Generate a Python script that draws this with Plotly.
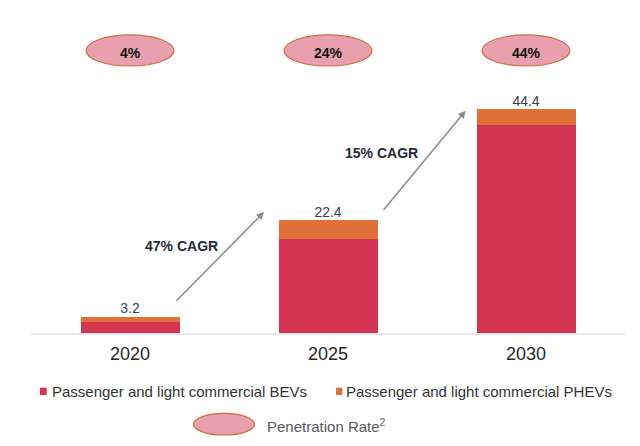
import plotly.graph_objects as go

years = ["2020", "2025", "2030"]
bev = [2.1, 18.7, 41.3]
phev = [1.1, 3.7, 3.1]
totals = [3.2, 22.4, 44.4]
penetration = [4, 24, 44]
cagr = [47, 15]

RED = "#D33552"
ORANGE = "#E0713A"
PINK = "#E8A0AE"
EDGE = "#CF6A3E"
SANS = "Liberation Sans, Arial"

W, H = 640, 446
ML, MR, MT, MB = 31, 15, 20, 113
YMAX = 62.1


def px(x, y):
    # pixel -> paper coordinates
    return (x - ML) / (W - ML - MR), (H - MB - y) / (H - MT - MB)


fig = go.Figure()
fig.add_trace(go.Bar(x=years, y=bev, name="Passenger and light commercial BEVs",
                     marker_color=RED, marker_line_width=0, showlegend=False))
fig.add_trace(go.Bar(x=years, y=phev, name="Passenger and light commercial PHEVs",
                     marker_color=ORANGE, marker_line_width=0, showlegend=False))
fig.add_trace(go.Scatter(x=years, y=totals, mode="text", text=[f"{t:.1f}" for t in totals],
                         textposition="top center", showlegend=False,
                         textfont=dict(family=SANS, size=14, color="#3a3f4b")))

# penetration ellipses above bars
for i, p in enumerate(penetration):
    fig.add_shape(type="circle", xref="x", yref="y", x0=i - 0.222, x1=i + 0.222,
                  y0=52.97, y1=59.13, fillcolor=PINK, line=dict(color=EDGE, width=1.2))
    fig.add_annotation(x=i, y=55.6, text=f"<b>{p}%</b>", showarrow=False,
                       font=dict(family=SANS, size=14, color="#111"))

# CAGR arrows
arrows = [((0.227, 6.1), (0.677, 24.0), (0.261, 17.3)),
          ((1.274, 24.1), (1.695, 44.1), (1.268, 35.8))]
for (tail, head, lab), c in zip(arrows, cagr):
    fig.add_annotation(x=head[0], y=head[1], ax=tail[0], ay=tail[1], xref="x", yref="y",
                       axref="x", ayref="y", text="", showarrow=True, arrowhead=2,
                       arrowsize=1, arrowwidth=1.5, arrowcolor="#8c8c8c", standoff=0)
    fig.add_annotation(x=lab[0], y=lab[1], text=f"<b>{c}% CAGR</b>", showarrow=False,
                       font=dict(family=SANS, size=14, color="#1f2a36"))

# manual legend
legend = [(40, 46.7, RED, 50, "Passenger and light commercial BEVs"),
          (336, 342.3, ORANGE, 344, "Passenger and light commercial PHEVs")]
for x0, x1, col, tx, label in legend:
    a = px(x0, 395)
    b = px(x1, 387.7)
    fig.add_shape(type="rect", xref="paper", yref="paper", x0=a[0], x1=b[0], y0=a[1], y1=b[1],
                  fillcolor=col, line=dict(width=0))
    t = px(tx, 391)
    fig.add_annotation(xref="paper", yref="paper", x=t[0], y=t[1], xanchor="left",
                       yanchor="middle", text=label, showarrow=False,
                       font=dict(family=SANS, size=15, color="#333"))

a = px(193.5, 435)
b = px(254.5, 413.3)
fig.add_shape(type="circle", xref="paper", yref="paper", x0=a[0], x1=b[0], y0=a[1], y1=b[1],
              fillcolor=PINK, line=dict(color=EDGE, width=1.2))
t = px(265, 425)
fig.add_annotation(xref="paper", yref="paper", x=t[0], y=t[1], xanchor="left",
                   yanchor="middle", text="Penetration Rate<sup>2</sup>", showarrow=False,
                   font=dict(family=SANS, size=15, color="#595959"))

fig.update_layout(
    width=W, height=H, barmode="stack", bargap=0.5,
    margin=dict(l=ML, r=MR, t=MT, b=MB),
    plot_bgcolor="white", paper_bgcolor="white",
    xaxis=dict(type="category", showline=True, linecolor="#e8e8e8", linewidth=1.5,
               showgrid=False, ticks="", ticklabelstandoff=4,
               tickfont=dict(family=SANS, size=18, color="#262626")),
    yaxis=dict(range=[0, YMAX], visible=False, showgrid=False, zeroline=False),
)

fig.write_html("out.html", config={"displayModeBar": False},
               post_script="document.body.style.margin='0';")
